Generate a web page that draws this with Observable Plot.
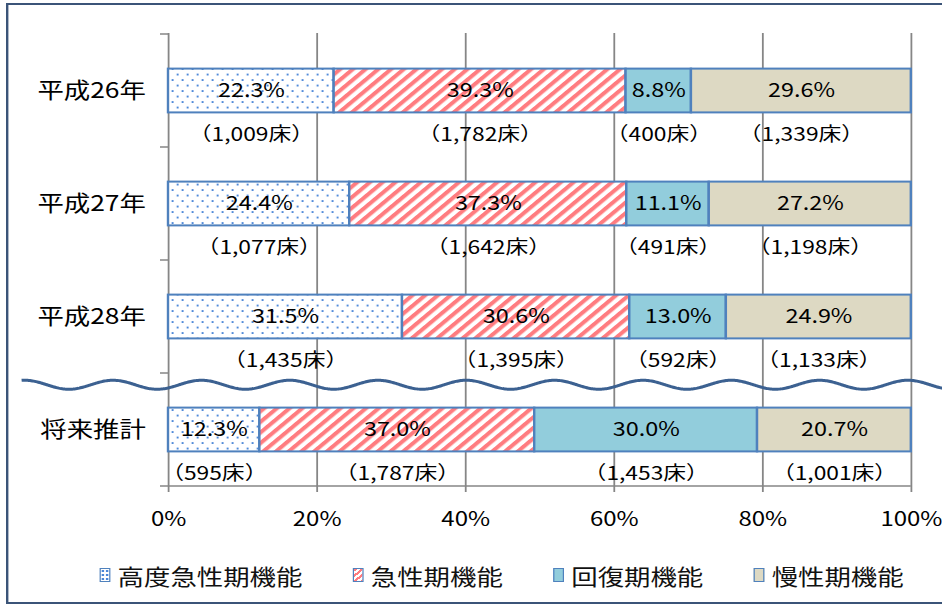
<!DOCTYPE html>
<html><head><meta charset="utf-8">
<script src="https://cdn.jsdelivr.net/npm/d3@7"></script>
<script src="https://cdn.jsdelivr.net/npm/@observablehq/plot@0.6"></script>
<style>
html,body{margin:0;padding:0;background:#fff;overflow:hidden;}
#stage{position:absolute;left:0;top:0;width:785px;height:609px;transform:scaleX(1.2);transform-origin:0 0;font-family:"Noto Sans CJK JP",sans-serif;}
#frame{position:absolute;left:5px;top:3px;width:800px;height:601px;box-sizing:border-box;border:2px solid #3b5478;}
#chart{position:absolute;left:0;top:0;}
#legend{position:absolute;left:83px;top:560px;display:flex;align-items:center;gap:42px;font-size:22px;line-height:30px;color:#111;white-space:nowrap;}
.item{display:flex;align-items:center;gap:6px;}
.sw{width:7px;height:12px;border:1.5px solid #4f81bd;}
</style></head><body>
<div id="stage"><div id="frame"></div><div id="chart"></div><div id="legend"></div></div>
<script>
const categories = ["平成26年", "平成27年", "平成28年", "将来推計"];
const seriesNames = ["高度急性期機能", "急性期機能", "回復期機能", "慢性期機能"];
const pct26 = [22.3, 39.3, 8.8, 29.6];
const pct27 = [24.4, 37.3, 11.1, 27.2];
const pct28 = [31.5, 30.6, 13.0, 24.9];
const pctFuture = [12.3, 37.0, 30.0, 20.7];
const beds26 = [1009, 1782, 400, 1339];
const beds27 = [1077, 1642, 491, 1198];
const beds28 = [1435, 1395, 592, 1133];
const bedsFuture = [595, 1787, 1453, 1001];
const xTicks = [0, 20, 40, 60, 80, 100];

const pctAll = [pct26, pct27, pct28, pctFuture];
const bedsAll = [beds26, beds27, beds28, bedsFuture];
const rows = [];
categories.forEach((c, i) => seriesNames.forEach((s, j) => rows.push({cat: c, series: s, pct: pctAll[i][j], beds: bedsAll[i][j]})));

const fills = ["url(#dotsPat)", "url(#stripePat)", "#92cddc", "#ddd9c3"];
const fmt = d3.format(",");

const plot = Plot.plot({
  width: 785, height: 545,
  marginLeft: 140, marginRight: 26, marginTop: 33, marginBottom: 59,
  style: {fontFamily: "'Noto Sans CJK JP', sans-serif", color: "#000", background: "transparent"},
  x: {domain: [0, 100]},
  y: {domain: categories, padding: 0},
  color: {domain: seriesNames, range: fills},
  marks: [
    Plot.gridX(xTicks, {stroke: "#868686", strokeOpacity: 1, strokeWidth: 1.5}),
    Plot.barX(rows, Plot.stackX({x: "pct", y: "cat", fill: "series", stroke: "#4f81bd", strokeWidth: 2, insetTop: 34.6, insetBottom: 34.6})),
    Plot.text(rows, Plot.stackX({x: "pct", y: "cat", z: "series", text: d => d.pct.toFixed(1) + "%", fontSize: 19.5, fill: "#000"})),
    Plot.text(rows, Plot.stackX({x: "pct", y: "cat", z: "series", text: d => "（" + fmt(d.beds) + "床）", fontSize: 19, fill: "#000", dy: 43.5})),
    Plot.axisX(xTicks, {tickFormat: d => d + "%", tickSize: 6, tickPadding: 19, fontSize: 20, stroke: "#868686", strokeWidth: 1.5, fill: "#000", label: null}),
    Plot.axisY({tickSize: 0, tickPadding: 19, fontSize: 22, fill: "#000", label: null})
  ]
});
document.getElementById("chart").appendChild(plot);

const svg = d3.select(plot);
const defs = svg.insert("defs", ":first-child");
const dp = defs.append("pattern").attr("id", "dotsPat").attr("patternUnits", "userSpaceOnUse").attr("width", 8.33).attr("height", 11);
dp.append("rect").attr("width", 8.33).attr("height", 11).attr("fill", "#fff");
dp.append("rect").attr("x", 1.4).attr("y", 2.1).attr("width", 1.6).attr("height", 1.9).attr("fill", "#4a86d8");
dp.append("rect").attr("x", 5.6).attr("y", 7.6).attr("width", 1.6).attr("height", 1.9).attr("fill", "#4a86d8");
const sp = defs.append("pattern").attr("id", "stripePat").attr("patternUnits", "userSpaceOnUse").attr("width", 7.5).attr("height", 7.5).attr("patternTransform", "rotate(45)");
sp.append("rect").attr("width", 7.5).attr("height", 7.5).attr("fill", "#fff");
sp.append("rect").attr("width", 3.7).attr("height", 7.5).attr("fill", "#ff7c80");

const xs = plot.scale("x"), ys = plot.scale("y");
const x0 = xs.apply(0), x100 = xs.apply(100);
const yBottom = ys.apply(categories[categories.length - 1]) + ys.bandwidth;
const deco = svg.append("g");
deco.append("line").attr("x1", x0).attr("x2", x100).attr("y1", yBottom).attr("y2", yBottom).attr("stroke", "#868686").attr("stroke-width", 1.5);
const bounds = categories.map(c => ys.apply(c)).concat([yBottom]);
bounds.forEach(b => deco.append("line").attr("x1", x0 - 6.7).attr("x2", x0).attr("y1", b).attr("y2", b).attr("stroke", "#868686").attr("stroke-width", 1.5));
// break symbol (wavy line) between 平成28年 and 将来推計
const wy = ys.apply("将来推計") + ys.bandwidth * 0.104;
const wavePts = d3.range(18, 792, 1).map(x => [x, wy - 4.5 * Math.cos(2 * Math.PI * (x - 94.2) / 73.6)]);
deco.append("path").attr("d", d3.line()(wavePts)).attr("fill", "none").attr("stroke", "#3c6191").attr("stroke-width", 3);

// legend
const swatchStyles = [
  "background-color:#fff;background-image:radial-gradient(circle,#4a86d8 0.9px,transparent 1.2px);background-size:3.5px 4px;",
  "background:repeating-linear-gradient(135deg,#ff7c80 0 2px,#fff 2px 4px);",
  "background:#92cddc;",
  "background:#ddd9c3;"
];
const legend = document.getElementById("legend");
seriesNames.forEach((s, i) => {
  const it = document.createElement("div");
  it.className = "item";
  it.innerHTML = `<span class="sw" style="${swatchStyles[i]}"></span><span>${s}</span>`;
  legend.appendChild(it);
});
</script>
</body></html>
